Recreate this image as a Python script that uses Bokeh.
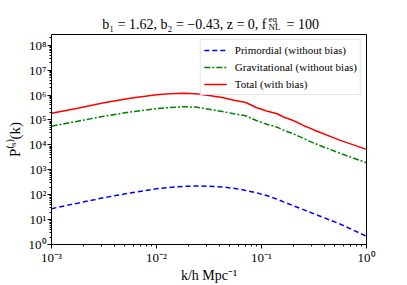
from bokeh.plotting import figure
from bokeh.layouts import column
from bokeh.models import FixedTicker, Legend, LegendItem, Label, Range1d
from bokeh.embed import file_html
from bokeh.resources import INLINE

# ---- data ----
k = [0.001, 0.00178, 0.00316, 0.00562, 0.01, 0.0133, 0.0178, 0.0237, 0.0316, 0.0422,
     0.0562, 0.0708, 0.0891, 0.112, 0.141, 0.162, 0.2, 0.251, 0.316, 0.562, 1.0]
p_primordial = [27.5, 45.7, 75.9, 117, 174, 195, 214, 224, 219, 204,
                178, 148, 120, 93.3, 66.1, 51.3, 36.3, 25.1, 17.0, 6.61, 2.14]
p_gravitational = [5.62e4, 8.91e4, 1.41e5, 2.09e5, 2.82e5, 3.16e5, 3.39e5, 3.31e5, 2.69e5, 2.19e5,
                   1.74e5, 1.48e5, 9.55e4, 6.76e4, 5.13e4, 3.89e4, 2.82e4, 1.82e4, 1.17e4, 4.57e3, 1.91e3]
p_total = [1.86e5, 2.95e5, 4.9e5, 7.41e5, 1.02e6, 1.12e6, 1.17e6, 1.12e6, 9.55e5, 7.94e5,
           6.03e5, 5.01e5, 3.16e5, 2.29e5, 1.78e5, 1.32e5, 9.55e4, 6.03e4, 3.98e4, 1.51e4, 6.6e3]

series_labels = ["Primordial (without bias)", "Gravitational (without bias)", "Total (with bias)"]

x_ticks = [1e-3, 1e-2, 1e-1, 1.0]
x_tick_labels = ["10\u207b\u00b3", "10\u207b\u00b2", "10\u207b\u00b9", "10\u2070"]
y_ticks = [1.0, 1e1, 1e2, 1e3, 1e4, 1e5, 1e6, 1e7, 1e8]
y_tick_labels = ["10\u2070", "10\u00b9", "10\u00b2", "10\u00b3", "10\u2074",
                 "10\u2075", "10\u2076", "10\u2077", "10\u2078"]

x_label = "k/h Mpc\u207b\u00b9"
y_label = "P\u207d\u02e2\u207e(k)"

FONT = "Liberation Serif"

# ---- title strip (a separate small figure so its texts are not clipped) ----
t = figure(width=407, height=33, x_range=Range1d(0, 1), y_range=Range1d(0, 1),
           x_axis_location=None, y_axis_location=None,
           output_backend="svg", toolbar_location=None,
           min_border_left=51, min_border_right=41, min_border_top=0, min_border_bottom=0)
t.outline_line_color = None
t.grid.visible = False
t.background_fill_color = "white"
t.border_fill_color = "white"
title_parts = [
    ("b\u2081 = 1.62, b\u2082 = \u22120.43, z = 0, f", 215, 9, "right", "14px"),
    ("eq", 217, 14.5, "left", "9px"),
    ("NL", 217, 7, "left", "9px"),
    ("= 100", 235, 9, "left", "14px"),
]
for txt, sx, sy, align, size in title_parts:
    t.add_layout(Label(x=sx, y=sy, x_units="screen", y_units="screen", text=txt,
                       text_align=align, text_baseline="alphabetic",
                       text_font=FONT, text_font_size=size, text_color="black"))

# ---- main plot ----
p = figure(width=407, height=252, x_axis_type="log", y_axis_type="log",
           x_range=Range1d(1e-3, 1.0), y_range=Range1d(1.0, 2.7e8),
           output_backend="svg", toolbar_location=None,
           min_border_left=51, min_border_right=41, min_border_top=1, min_border_bottom=36)
p.background_fill_color = "white"
p.border_fill_color = "white"
p.outline_line_color = "black"
p.outline_line_width = 1
p.grid.visible = False

x_minor = [m * 10.0 ** e for e in range(-3, 0) for m in range(2, 10)]
y_minor = [m * 10.0 ** e for e in range(0, 9) for m in range(2, 10)]
p.xaxis.ticker = FixedTicker(ticks=x_ticks, minor_ticks=x_minor)
p.yaxis.ticker = FixedTicker(ticks=y_ticks, minor_ticks=y_minor)
p.xaxis.major_label_overrides = {v: s for v, s in zip(x_ticks, x_tick_labels)}
p.yaxis.major_label_overrides = {v: s for v, s in zip(y_ticks, y_tick_labels)}

for ax in (p.xaxis[0], p.yaxis[0]):
    ax.axis_line_color = "black"
    ax.major_tick_line_color = "black"
    ax.minor_tick_line_color = "black"
    ax.major_tick_out = 4
    ax.major_tick_in = 0
    ax.minor_tick_out = 2
    ax.minor_tick_in = 0
    ax.major_label_text_font = FONT
    ax.major_label_text_font_size = "13px"
    ax.major_label_text_color = "black"
    ax.major_label_standoff = 1
    ax.axis_label_text_font = FONT
    ax.axis_label_text_font_style = "normal"
    ax.axis_label_text_color = "black"

p.xaxis.axis_label = x_label
p.xaxis.axis_label_text_font_size = "14px"
p.xaxis.axis_label_standoff = 0
p.yaxis.axis_label = y_label
p.yaxis.axis_label_text_font_size = "15px"
p.yaxis.axis_label_standoff = 3

r1 = p.line(k, p_primordial, line_color="#0000ff", line_width=1.5, line_dash="5 3")
r2 = p.line(k, p_gravitational, line_color="#008000", line_width=1.5, line_dash="6 2 2 2")
r3 = p.line(k, p_total, line_color="#ff0000", line_width=1.5)

legend = Legend(items=[LegendItem(label=series_labels[0], renderers=[r1]),
                       LegendItem(label=series_labels[1], renderers=[r2]),
                       LegendItem(label=series_labels[2], renderers=[r3])],
                location="top_right", margin=5, padding=3, spacing=3,
                label_height=14, glyph_height=14, glyph_width=23, label_standoff=8,
                label_text_font=FONT, label_text_font_size="11px", label_text_color="black",
                border_line_color="#cccccc", border_line_width=1,
                background_fill_color="white", background_fill_alpha=0.8)
p.add_layout(legend)

layout = column(t, p, spacing=0)
open("out.html", "w").write(file_html(layout, INLINE))
